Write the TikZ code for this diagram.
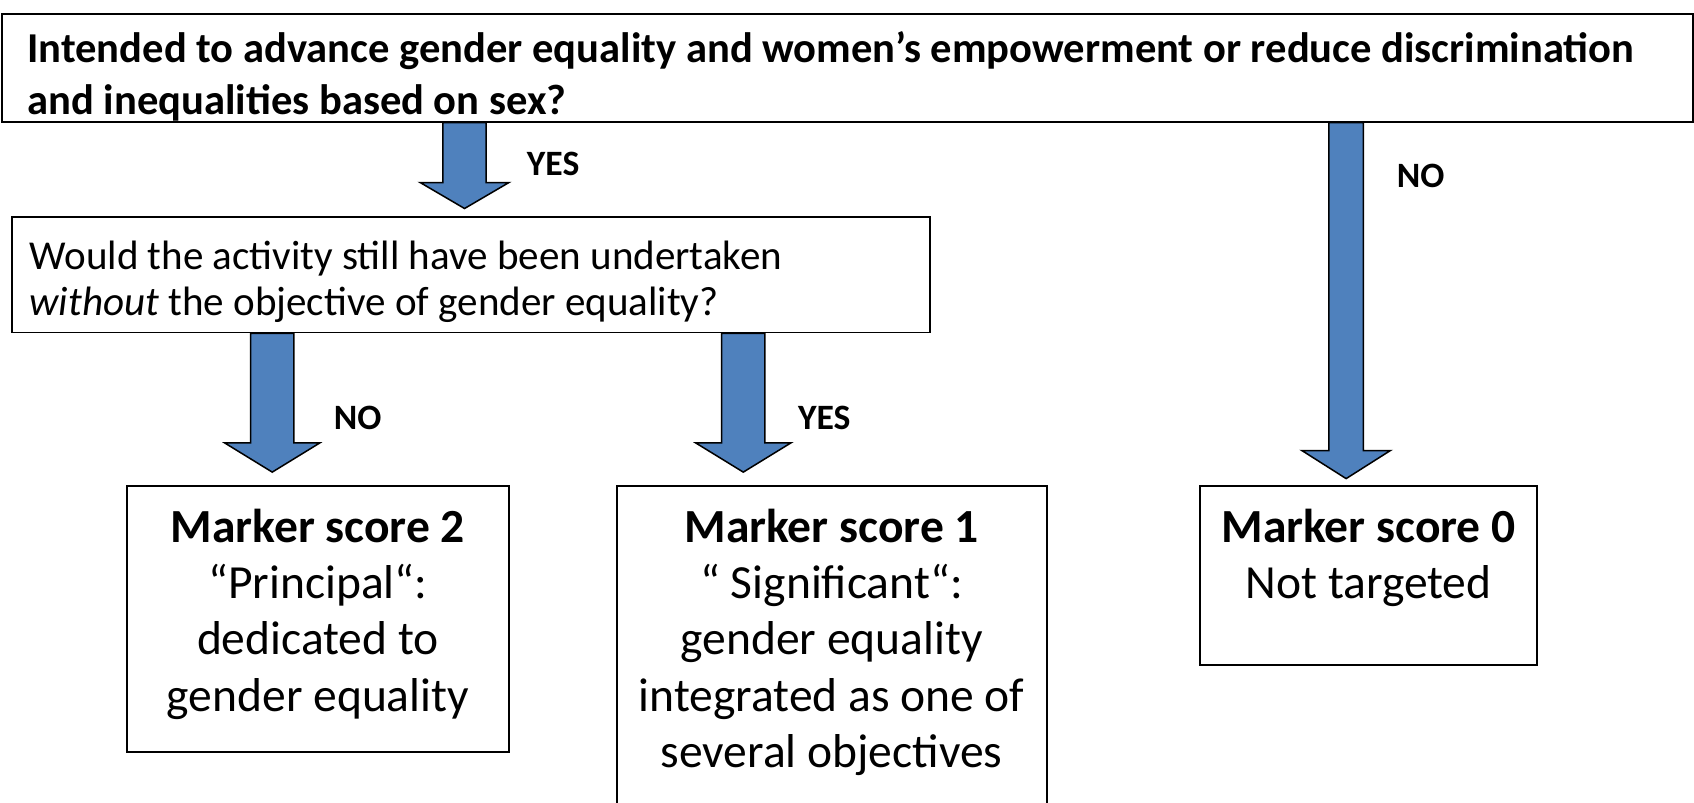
\documentclass[tikz,border=0pt]{standalone}
\usepackage{fontspec}
\setmainfont{Carlito}
\usetikzlibrary{calc}
\definecolor{arrowblue}{HTML}{4F81BD}
\tikzset{
  box/.style={draw=black, line width=0.8pt, fill=white, inner sep=0pt, anchor=north west},
  arrowfill/.style={fill=arrowblue, draw=black, line width=0.7pt, line join=miter},
  lbl/.style={font=\fontsize{16.5}{19}\selectfont\bfseries, inner sep=0pt},
  toptext/.style={font=\fontsize{19.7}{24}\selectfont\bfseries, align=left, inner sep=0pt, anchor=north west},
  qtext/.style={font=\fontsize{19}{21}\selectfont, align=left, inner sep=0pt, anchor=north west},
  mtext/.style={font=\fontsize{22}{26}\selectfont, align=center, inner sep=0pt, anchor=north},
}
\newcommand\blockarrow[5]{%
  \draw[arrowfill] let \p1=(#1), \p2=(#2) in
   (\x1-#3,\y1) -- (\x1-#3,\y2+#5) -- (\x1-#4,\y2+#5) -- (\x1,\y2)
   -- (\x1+#4,\y2+#5) -- (\x1+#3,\y2+#5) -- (\x1+#3,\y1) -- cycle;}
\begin{document}
\begin{tikzpicture}[x=0.5pt,y=-0.5pt]
\clip (0,0) rectangle (1568,743);
% boxes
\node[box, minimum width=782.5pt, minimum height=50pt] (top) at (1,12) {};
\node[box, minimum width=425pt, minimum height=53.5pt] (q2) at (10,200) {};
\node[box, minimum width=176.5pt, minimum height=123pt] (m2) at (117,449) {};
\node[box, minimum width=199pt, minimum height=160pt] (m1) at (570,449) {};
\node[box, minimum width=156pt, minimum height=83pt] (m0) at (1110,449) {};
% texts
\node[toptext] (toptxt) at (25,29) {Intended to advance gender equality and women’s empowerment or reduce discrimination\\and inequalities based on sex?};
\node[qtext] (q2txt) at (27,223) {Would the activity still have been undertaken\\\textit{without} the objective of gender equality?};
\node[mtext] (m2txt) at ($(m2.north)+(0,22)$) {\textbf{Marker score 2}\\“Principal“:\\dedicated to\\gender equality};
\node[mtext] (m1txt) at ($(m1.north)+(0,22)$) {\textbf{Marker score 1}\\“ Significant“:\\gender equality\\integrated as one of\\several objectives};
\node[mtext] (m0txt) at ($(m0.north)+(0,22)$) {\textbf{Marker score 0}\\Not targeted};
% arrow axes
\coordinate (xa) at (430,0);
\coordinate (xb) at (252,0);
\coordinate (xc) at (688,0);
\coordinate (xd) at (1246,0);
% arrows
\blockarrow{top.south -| xa}{$(q2.north -| xa)+(0,-7)$}{10pt}{20.5pt}{12pt}
\blockarrow{q2.south -| xb}{$(m2.north -| xb)+(0,-12)$}{10pt}{22pt}{13.5pt}
\blockarrow{q2.south -| xc}{$(m1.north -| xc)+(0,-12)$}{10pt}{22pt}{13.5pt}
\blockarrow{top.south -| xd}{$(m0.north -| xd)+(0,-6)$}{8pt}{20.5pt}{13pt}
% labels
\node[lbl] (yes1) at (512,152) {YES};
\node[lbl] (no1) at (1315,163) {NO};
\node[lbl] (no2) at (331,387) {NO};
\node[lbl] (yes2) at (763,387) {YES};
\end{tikzpicture}
\end{document}
